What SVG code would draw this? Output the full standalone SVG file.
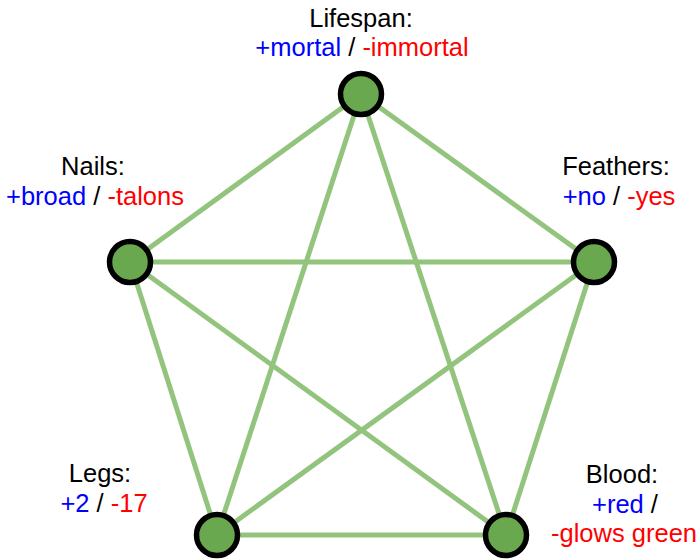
<svg xmlns="http://www.w3.org/2000/svg" width="699" height="560" viewBox="0 0 699 560">
<style>
.e{stroke:#93c47d;stroke-width:5;fill:none}
.n{fill:#6aa84f;stroke:#000;stroke-width:5.5}
text{font-family:"Liberation Sans",Arial,sans-serif;font-size:25.5px;text-anchor:middle;fill:#000}
.p{fill:#0000ff}
.m{fill:#ff0000}
</style>
<rect width="699" height="560" fill="#fff"/>
<g id="connectors">
<line class="e" x1="361" y1="94" x2="130" y2="262"/>
<line class="e" x1="361" y1="94" x2="594" y2="262"/>
<line class="e" x1="361" y1="94" x2="217" y2="535"/>
<line class="e" x1="361" y1="94" x2="506" y2="535"/>
<line class="e" x1="130" y1="262" x2="594" y2="262"/>
<line class="e" x1="130" y1="262" x2="217" y2="535"/>
<line class="e" x1="130" y1="262" x2="506" y2="535"/>
<line class="e" x1="594" y1="262" x2="217" y2="535"/>
<line class="e" x1="594" y1="262" x2="506" y2="535"/>
<line class="e" x1="217" y1="535" x2="506" y2="535"/>
</g>
<g id="lifespan">
<circle class="n" cx="361" cy="94" r="20.5"/>
<text x="361" y="27">Lifespan:</text>
<text x="362" y="56"><tspan class="p">+mortal</tspan> / <tspan class="m">-immortal</tspan></text>
</g>
<g id="nails">
<circle class="n" cx="130" cy="262" r="20.5"/>
<text x="93" y="175">Nails:</text>
<text x="95" y="205"><tspan class="p">+broad</tspan> / <tspan class="m">-talons</tspan></text>
</g>
<g id="feathers">
<circle class="n" cx="594" cy="262" r="20.5"/>
<text x="616" y="175">Feathers:</text>
<text x="619" y="205"><tspan class="p">+no</tspan> / <tspan class="m">-yes</tspan></text>
</g>
<g id="legs">
<circle class="n" cx="217" cy="535" r="20.5"/>
<text x="100" y="482">Legs:</text>
<text x="104" y="512"><tspan class="p">+2</tspan> / <tspan class="m">-17</tspan></text>
</g>
<g id="blood">
<circle class="n" cx="506" cy="535" r="20.5"/>
<text x="622" y="483">Blood:</text>
<text x="625" y="513"><tspan class="p">+red</tspan> /</text>
<text x="624" y="542" class="m">-glows green</text>
</g>
</svg>
